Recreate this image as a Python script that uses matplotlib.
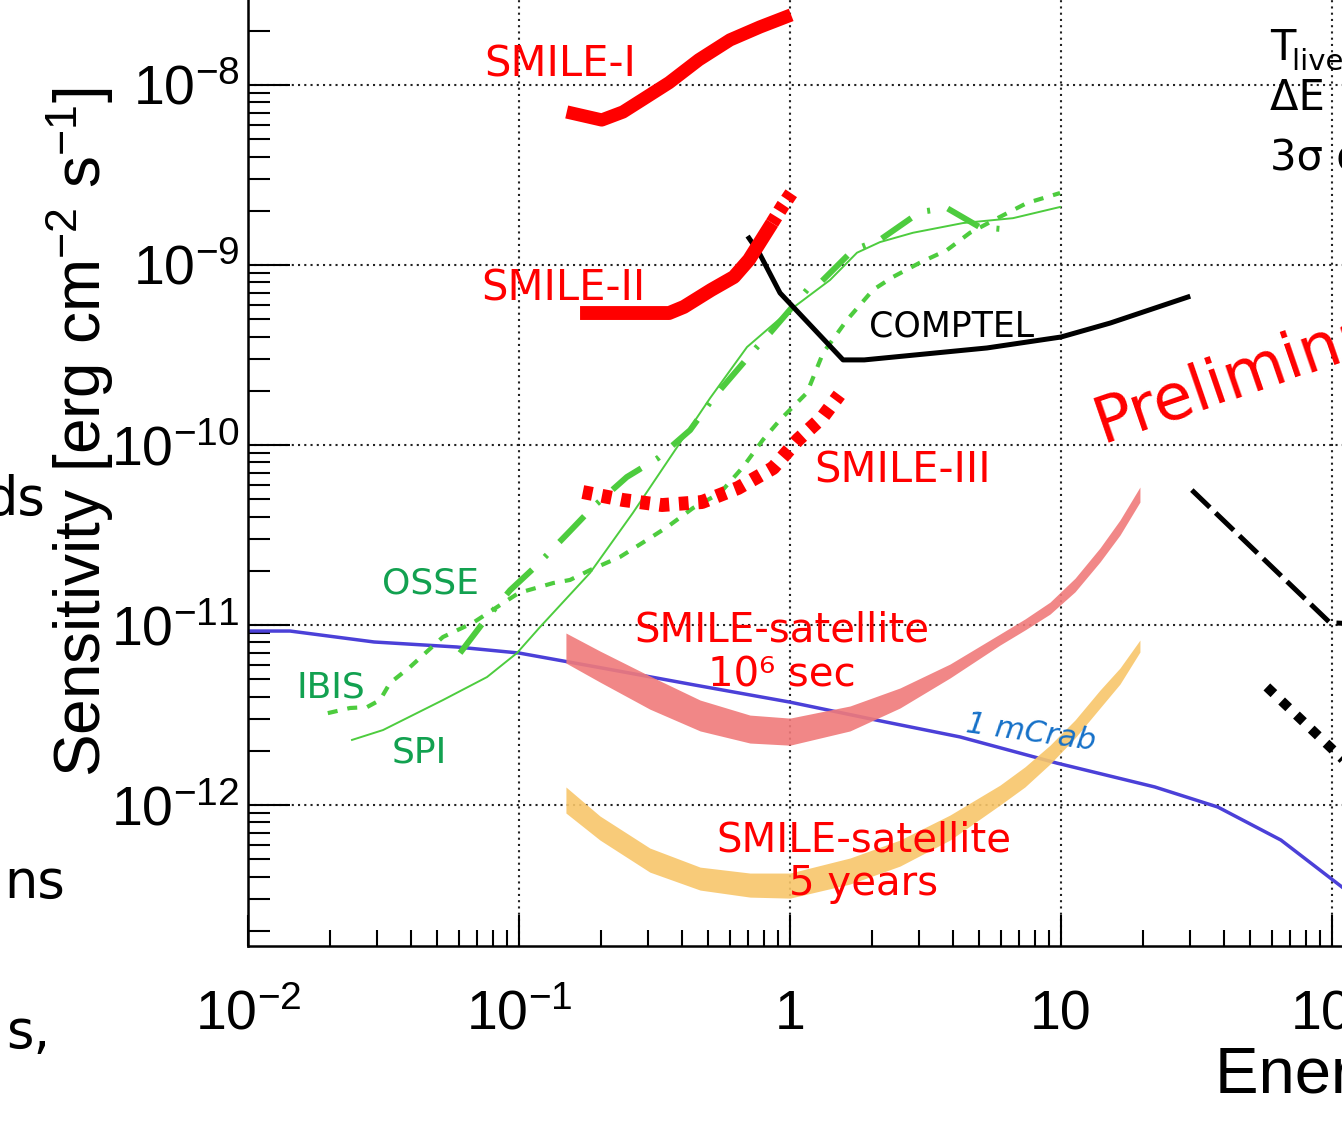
import matplotlib
matplotlib.use('Agg')
import matplotlib.pyplot as plt
from matplotlib.ticker import LogLocator, NullFormatter

plt.rcParams['font.family'] = ['Liberation Sans', 'DejaVu Sans']
plt.rcParams['mathtext.fontset'] = 'custom'
plt.rcParams['mathtext.rm'] = 'Liberation Sans'
plt.rcParams['mathtext.it'] = 'Liberation Sans:italic'
plt.rcParams['mathtext.bf'] = 'Liberation Sans:bold'
COMIC = ['DejaVu Sans']

# energy in MeV, sensitivity in erg cm^-2 s^-1
smile1_e = [0.150, 0.202, 0.242, 0.284, 0.358, 0.461, 0.601, 0.775, 1.01]
smile1_s = [7.08e-9, 6.39e-9, 7.08e-9, 8.25e-9, 1.03e-8, 1.38e-8, 1.78e-8, 2.10e-8, 2.45e-8]

smile2_e = [0.168, 0.358, 0.406, 0.512, 0.621, 0.706, 0.859]
smile2_s = [5.41e-10, 5.41e-10, 5.85e-10, 7.27e-10, 8.58e-10, 1.07e-9, 1.71e-9]
smile2x_e = [0.859, 0.94, 1.03]
smile2x_s = [1.71e-9, 2.13e-9, 2.61e-9]

smile3_e = [0.172, 0.242, 0.337, 0.473, 0.643, 0.866, 1.07, 1.32, 1.52]
smile3_s = [5.48e-11, 4.95e-11, 4.64e-11, 4.82e-11, 5.77e-11, 7.45e-11, 1.07e-10, 1.43e-10, 1.90e-10]

comptel_e = [0.706, 0.769, 0.919, 1.57, 1.88, 5.33, 10.0, 15.2, 29.4]
comptel_s = [1.41e-9, 1.17e-9, 6.99e-10, 2.97e-10, 2.97e-10, 3.46e-10, 3.98e-10, 4.76e-10, 6.64e-10]

spi_e = [0.0242, 0.0315, 0.0524, 0.0762, 0.0983, 0.1196, 0.183, 0.263, 0.393, 0.507,
         0.694, 1.0, 1.405, 1.767, 2.148, 2.843, 4.349, 6.65, 9.92]
spi_s = [2.30e-12, 2.61e-12, 3.83e-12, 5.14e-12, 6.99e-12, 9.75e-12, 1.95e-11, 4.19e-11, 1.03e-10, 1.82e-10,
         3.50e-10, 5.62e-10, 8.25e-10, 1.17e-9, 1.34e-9, 1.51e-9, 1.71e-9, 1.82e-9, 2.10e-9]

ibis_e = [0.0197, 0.0238, 0.0275, 0.0307, 0.0334, 0.0396, 0.0524, 0.0677, 0.0851, 0.100, 0.1196, 0.1335,
          0.1543, 0.183, 0.236, 0.297, 0.352, 0.439, 0.552, 0.671, 0.795, 0.919, 1.155, 1.324, 1.623,
          2.024, 2.399, 3.017, 3.796, 4.615, 5.955, 7.49, 9.92]
ibis_s = [3.24e-12, 3.46e-12, 3.50e-12, 3.83e-12, 4.76e-12, 5.84e-12, 8.58e-12, 1.03e-11, 1.29e-11, 1.51e-11,
          1.63e-11, 1.71e-11, 1.78e-11, 2.02e-11, 2.39e-11, 2.97e-11, 3.50e-11, 4.47e-11, 5.41e-11, 7.55e-11,
          1.07e-10, 1.38e-10, 1.95e-10, 3.24e-10, 4.95e-10, 7.27e-10, 8.58e-10, 1.03e-9, 1.21e-9, 1.51e-9,
          1.85e-9, 2.21e-9, 2.51e-9]

osse_e = [0.0606, 0.0737, 0.0927, 0.1165, 0.1517, 0.1875, 0.250, 0.326, 0.428, 0.520, 0.755, 0.844,
          1.155, 1.29, 1.708, 2.148, 3.017, 3.796, 5.024, 6.88]
osse_s = [6.99e-12, 1.03e-11, 1.56e-11, 2.15e-11, 3.24e-11, 4.52e-11, 6.64e-11, 8.47e-11, 1.21e-10, 1.82e-10,
          3.50e-10, 4.19e-10, 7.27e-10, 7.94e-10, 1.21e-9, 1.38e-9, 1.97e-9, 2.07e-9, 1.62e-9, 1.56e-9]

crab_e = [0.01, 0.0143, 0.0292, 0.059, 0.1, 0.194, 0.446, 1.0, 2.07, 4.24, 9.66, 22.2, 37.9, 64.8, 109]
crab_s = [9.26e-12, 9.26e-12, 8.05e-12, 7.55e-12, 6.99e-12, 5.84e-12, 4.64e-12, 3.73e-12, 2.97e-12,
          2.39e-12, 1.71e-12, 1.26e-12, 9.75e-13, 6.39e-13, 3.50e-13]

sat_e = [0.149, 0.199, 0.304, 0.466, 0.712, 1.0, 1.665, 2.546, 3.894, 5.955, 7.36, 9.11, 11.27,
         13.93, 16.51, 19.56]
sat6_hi = [9.03e-12, 7.17e-12, 5.21e-12, 3.83e-12, 3.16e-12, 3.04e-12, 3.55e-12, 4.47e-12, 6.07e-12,
           8.91e-12, 1.08e-11, 1.34e-11, 1.82e-11, 2.68e-11, 3.83e-11, 5.84e-11]
sat6_lo = [6.15e-12, 4.82e-12, 3.41e-12, 2.58e-12, 2.21e-12, 2.15e-12, 2.58e-12, 3.46e-12, 5.08e-12,
           7.74e-12, 9.38e-12, 1.15e-11, 1.53e-11, 2.24e-11, 3.16e-11, 4.82e-11]
sat5y_hi = [1.26e-12, 8.69e-13, 5.77e-13, 4.52e-13, 4.19e-13, 4.19e-13, 5.08e-13, 6.39e-13, 8.80e-13,
            1.29e-12, 1.63e-12, 2.15e-12, 2.97e-12, 4.35e-12, 5.77e-12, 8.25e-12]
sat5y_lo = [9.03e-13, 6.39e-13, 4.24e-13, 3.37e-13, 3.08e-13, 3.04e-13, 3.64e-13, 4.58e-13, 6.39e-13,
            1.0e-12, 1.26e-12, 1.69e-12, 2.36e-12, 3.46e-12, 4.70e-12, 7.08e-12]

hi_dash_e = [30.4, 98.3, 150]
hi_dash_s = [5.62e-11, 1.03e-11, 1.0e-11]
hi_dot_e = [57.5, 120]
hi_dot_s = [4.53e-12, 1.58e-12]

x_ticks = [0.01, 0.1, 1, 10, 100]
x_labels = [r'$\mathdefault{10^{-2}}$', r'$\mathdefault{10^{-1}}$', '1', '10', r'$\mathdefault{10^{2}}$']
y_ticks = [1e-12, 1e-11, 1e-10, 1e-9, 1e-8]
y_labels = [r'$\mathdefault{10^{-12}}$', r'$\mathdefault{10^{-11}}$', r'$\mathdefault{10^{-10}}$',
            r'$\mathdefault{10^{-9}}$', r'$\mathdefault{10^{-8}}$']

RED = '#ff0000'
GREEN = '#4dcc3e'
GTEXT = '#12a150'

W, H = 1342, 1134
fig = plt.figure(figsize=(W / 100, H / 100), dpi=100)
ax = fig.add_axes([248 / W, 1 - 946 / H, 1 - 248 / W, 946 / H])
ax.set_xscale('log')
ax.set_yscale('log')
ax.set_xlim(0.01, 10 ** 2.037)
ax.set_ylim(10 ** -12.783, 10 ** -7.528)

# bands
ax.fill_between(sat_e, sat6_lo, sat6_hi, color='#f07a7a', lw=0, alpha=0.9, zorder=3)
ax.fill_between(sat_e, sat5y_lo, sat5y_hi, color='#f8c66a', lw=0, alpha=0.9, zorder=3)

ax.plot(crab_e, crab_s, color='#4b40d8', lw=2.5, zorder=2)

ax.plot(spi_e, spi_s, color=GREEN, lw=1.4, zorder=4)
ax.plot(ibis_e, ibis_s, color=GREEN, lw=3, ls=(0, (2.4, 2.4)), zorder=4)
ax.plot(osse_e, osse_s, color=GREEN, lw=4.3, ls=(0, (6, 3, 0.5, 3)), zorder=4)

ax.plot(comptel_e, comptel_s, color='black', lw=3.6, zorder=5)
ax.plot(hi_dash_e, hi_dash_s, color='black', lw=3.6, ls=(0, (5, 1.6)), zorder=5)
ax.plot(hi_dot_e, hi_dot_s, color='black', lw=7, ls=(0, (1, 1.1)), zorder=5)

ax.plot(smile1_e, smile1_s, color=RED, lw=9.5, solid_capstyle='butt', zorder=6)
ax.plot(smile2_e, smile2_s, color=RED, lw=10, solid_capstyle='butt', zorder=6)
ax.plot(smile2x_e, smile2x_s, color=RED, lw=10, ls=(0, (0.55, 0.45)), zorder=6)
ax.plot(smile3_e, smile3_s, color=RED, lw=10, ls=(0, (0.7, 0.7)), zorder=6)

# axes styling
ax.set_xticks(x_ticks, x_labels)
ax.set_yticks(y_ticks, y_labels)
ax.xaxis.set_minor_locator(LogLocator(base=10, subs=range(2, 10), numticks=50))
ax.yaxis.set_minor_locator(LogLocator(base=10, subs=range(2, 10), numticks=50))
ax.xaxis.set_minor_formatter(NullFormatter())
ax.yaxis.set_minor_formatter(NullFormatter())
ax.tick_params(axis='x', which='major', direction='in', length=22, width=1.5, pad=60, labelsize=40)
ax.tick_params(axis='x', which='minor', direction='in', length=11.5, width=1.5)
ax.tick_params(axis='y', which='major', direction='in', length=30, width=1.5, pad=6, labelsize=40)
ax.tick_params(axis='y', which='minor', direction='in', length=16, width=1.5)
for lab in ax.get_xticklabels():
    lab.set_verticalalignment('baseline')
ax.grid(True, which='major', color='#222222', lw=1.5, ls=(0, (1, 2)))
for side in ['top', 'right']:
    ax.spines[side].set_visible(False)
for side in ['left', 'bottom']:
    ax.spines[side].set_linewidth(1.8)

# curve labels
ax.text(0.1417, 1.11e-8, 'SMILE-I', color=RED, fontsize=30, family=COMIC, ha='center', va='baseline')
ax.text(0.1454, 6.39e-10, 'SMILE-II', color=RED, fontsize=30, family=COMIC, ha='center', va='baseline')
ax.text(2.61, 6.23e-11, 'SMILE-III', color=RED, fontsize=30, family=COMIC, ha='center', va='baseline')
ax.text(3.93, 4.03e-10, 'COMPTEL', color='black', fontsize=25, family=COMIC, ha='center', va='baseline')
ax.text(0.047, 1.49e-11, 'OSSE', color=GTEXT, fontsize=26, family=COMIC, ha='center', va='baseline')
ax.text(0.0202, 3.98e-12, 'IBIS', color=GTEXT, fontsize=26, family=COMIC, ha='center', va='baseline')
ax.text(0.0428, 1.73e-12, 'SPI', color=GTEXT, fontsize=26, family=COMIC, ha='center', va='baseline')
ax.text(0.934, 8.14e-12, 'SMILE-satellite', color=RED, fontsize=29, family=COMIC, ha='center', va='baseline', zorder=7)
ax.text(0.934, 4.58e-12, '10⁶ sec', color=RED, fontsize=29, family=COMIC, ha='center', va='baseline', zorder=7)
ax.text(1.875, 5.55e-13, 'SMILE-satellite', color=RED, fontsize=29, family=COMIC, ha='center', va='baseline', zorder=7)
ax.text(1.875, 3.16e-13, '5 years', color=RED, fontsize=29, family=COMIC, ha='center', va='baseline', zorder=7)
ax.text(7.74, 2.51e-12, '1 mCrab', color='#1570c8', fontsize=22, family=COMIC, style='italic',
        rotation=-8, ha='center', va='center', zorder=7)

# axis titles
fig.text(80 / W, 1 - 432 / H, r'Sensitivity [erg cm$^{\mathdefault{-2}}$ s$^{\mathdefault{-1}}$]',
         rotation=90, ha='center', va='center', fontsize=46)
fig.text(1215 / W, 1 - 1093 / H, 'Energy [MeV]', ha='left', va='baseline', fontsize=47)

# slide text around the plot
fig.text(1103 / W, 1 - 443 / H, 'Preliminary', color=RED, fontsize=46, family=COMIC,
         rotation=19, rotation_mode='anchor', ha='left', va='baseline')
fig.text(1270 / W, 1 - 60 / H, 'T', fontsize=30, family=COMIC, va='baseline')
fig.text(1292 / W, 1 - 70 / H, 'live = 10⁶ s', fontsize=21, family=COMIC, va='baseline')
fig.text(1270 / W, 1 - 110 / H, 'ΔE = FWHM', fontsize=30, family=COMIC, va='baseline')
fig.text(1270 / W, 1 - 170 / H, '3σ detection', fontsize=30, family=COMIC, va='baseline')
fig.text(45 / W, 1 - 515 / H, 'ds', fontsize=38, family=COMIC, ha='right', va='baseline')
fig.text(65 / W, 1 - 898 / H, 'ns', fontsize=38, family=COMIC, ha='right', va='baseline')
fig.text(50 / W, 1 - 1048 / H, 's,', fontsize=38, family=COMIC, ha='right', va='baseline')

fig.savefig('out.png', dpi=100)
